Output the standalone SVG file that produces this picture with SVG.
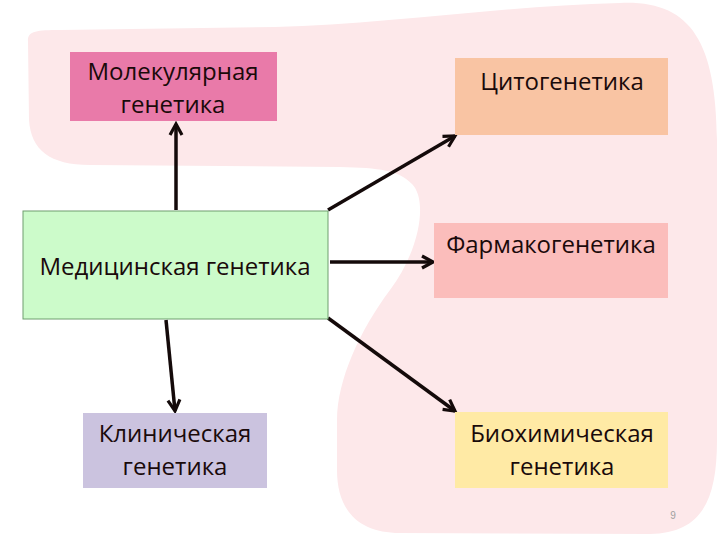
<svg xmlns="http://www.w3.org/2000/svg" width="720" height="540" viewBox="0 0 720 540">
<defs>
<style>
.box text{font-family:"Open Sans","Liberation Sans",sans-serif;font-size:24px;fill:#1a0a0a;text-anchor:middle}
.conn line{stroke:#140a0a;stroke-width:3.5;marker-end:url(#arr)}
</style>
<marker id="arr" markerUnits="userSpaceOnUse" viewBox="0 0 16 16" markerWidth="16" markerHeight="16" refX="13" refY="8" orient="auto">
<path d="M2,2 L13,8 L2,14" fill="none" stroke="#140a0a" stroke-width="3.2" stroke-linejoin="miter"/>
</marker>
</defs>
<rect width="720" height="540" fill="#ffffff"/>
<path id="blob" d="M28,42 C27,31 36,30 60,30 L275,27 C380,25 500,6 620,3 C690,0 716,40 717,140 L717,440 C717,500 702,533 650,534 L400,533 C360,533 337,512 337,470 L337,420 C337,380 360,330 390,290 C420,250 428,200 412,184 C398,170 380,168 340,167 L90,165 C50,165 31,150 29,120 Z" fill="#fde8ea"/>
<g class="conn">
<line x1="176" y1="210" x2="176" y2="124"/>
<line x1="166" y1="320" x2="175" y2="411"/>
<line x1="328" y1="210" x2="455" y2="136"/>
<line x1="330" y1="262" x2="433" y2="262"/>
<line x1="328" y1="318" x2="455" y2="411"/>
</g>
<g id="molecular" class="box">
<rect x="70" y="52" width="207" height="69" fill="#e97aa9"/>
<text x="173" y="80">Молекулярная</text>
<text x="173" y="113">генетика</text>
</g>
<g id="cyto" class="box">
<rect x="455" y="58" width="213" height="77" fill="#f9c4a3"/>
<text x="562" y="90">Цитогенетика</text>
</g>
<g id="medical" class="box">
<rect x="23" y="211" width="305" height="108" fill="#ccfbca" stroke="#6e9e6e" stroke-width="1"/>
<text x="175" y="275">Медицинская генетика</text>
</g>
<g id="pharmaco" class="box">
<rect x="434" y="223" width="234" height="75" fill="#fbbdbb"/>
<text x="551" y="253">Фармакогенетика</text>
</g>
<g id="clinical" class="box">
<rect x="83" y="413" width="184" height="75" fill="#cbc3df"/>
<text x="175" y="442">Клиническая</text>
<text x="175" y="475">генетика</text>
</g>
<g id="biochem" class="box">
<rect x="455" y="412" width="213" height="76" fill="#ffeaa5"/>
<text x="562" y="442">Биохимическая</text>
<text x="562" y="475">генетика</text>
</g>
<text x="673" y="519" font-family="Liberation Sans, sans-serif" font-size="10" fill="#a0a0a0" text-anchor="middle">9</text>
</svg>
